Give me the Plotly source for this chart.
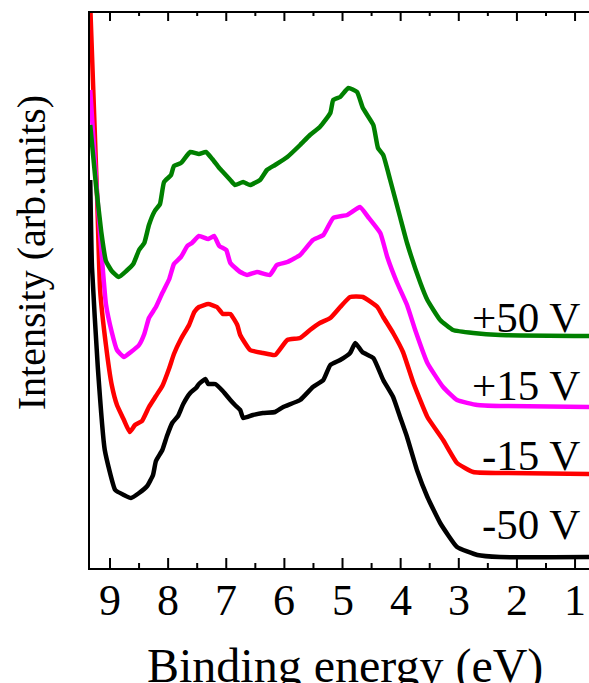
import plotly.graph_objects as go

# Binding energy (eV) and intensity (arb. units, offset spectra)
e_m50 = [9.34, 9.31, 9.21, 9.09, 8.91, 8.76, 8.64, 8.50, 8.36, 8.26, 8.21, 8.10, 8.02, 7.93, 7.83, 7.74,
         7.62, 7.52, 7.47, 7.36, 7.31, 7.19, 7.06, 6.93, 6.85, 6.76, 6.71, 6.54, 6.37, 6.16, 6.02, 5.73,
         5.51, 5.33, 5.21, 5.04, 4.87, 4.78, 4.66, 4.47, 4.30, 4.13, 4.01, 3.89, 3.72, 3.54, 3.32, 3.03,
         2.68, 2.29, 0.70]
i_m50 = [388, 301, 201, 118, 78, 73, 70, 75, 82, 93, 107, 118, 132, 145, 152, 164,
         175, 180, 184, 189, 184, 184, 177, 168, 163, 158, 150, 153, 155, 156, 161, 168,
         181, 188, 203, 208, 215, 225, 216, 210, 188, 171, 151, 131, 98, 71, 45, 21,
         13, 11, 11]

e_m15 = [9.34, 9.22, 9.17, 9.07, 8.97, 8.88, 8.76, 8.66, 8.57, 8.45, 8.33, 8.21, 8.10, 7.98, 7.90, 7.78,
         7.64, 7.55, 7.47, 7.31, 7.16, 7.06, 6.93, 6.81, 6.76, 6.59, 6.37, 6.16, 5.95, 5.73, 5.56, 5.39,
         5.21, 5.04, 4.87, 4.65, 4.40, 4.30, 4.13, 3.96, 3.78, 3.54, 3.27, 3.03, 2.75, 2.29, 0.70]
i_m15 = [563, 368, 278, 223, 183, 163, 148, 136, 143, 147, 161, 172, 182, 200, 214, 229,
         243, 256, 261, 264, 261, 254, 254, 243, 233, 218, 215, 213, 228, 230, 238, 245,
         250, 261, 271, 271, 261, 251, 235, 216, 185, 151, 128, 105, 96, 95, 94]

e_p15 = [9.34, 9.24, 9.15, 9.07, 8.97, 8.88, 8.76, 8.64, 8.50, 8.41, 8.33, 8.21, 8.10, 7.98, 7.90, 7.78,
         7.67, 7.59, 7.47, 7.31, 7.21, 7.12, 7.00, 6.93, 6.76, 6.64, 6.47, 6.25, 6.13, 5.95, 5.73, 5.51,
         5.33, 5.16, 4.92, 4.70, 4.56, 4.35, 4.23, 4.06, 3.89, 3.75, 3.54, 3.27, 3.03, 2.68, 2.29, 0.70]
i_p15 = [478, 389, 318, 264, 236, 218, 211, 216, 223, 234, 250, 261, 275, 289, 304, 311,
         322, 325, 332, 329, 332, 322, 318, 305, 296, 293, 296, 293, 303, 306, 313, 328,
         333, 350, 353, 361, 351, 335, 311, 285, 263, 238, 205, 181, 168, 163, 162, 161]

e_p50 = [9.34, 9.24, 9.15, 9.07, 8.97, 8.85, 8.72, 8.60, 8.50, 8.41, 8.33, 8.23, 8.14, 8.07, 7.95, 7.90,
         7.78, 7.62, 7.47, 7.35, 7.24, 7.12, 7.04, 6.93, 6.85, 6.71, 6.59, 6.42, 6.30, 6.16, 5.95, 5.73,
         5.56, 5.39, 5.21, 5.16, 5.04, 4.90, 4.75, 4.65, 4.47, 4.39, 4.30, 4.18, 4.01, 3.89, 3.66, 3.54,
         3.32, 3.10, 2.75, 2.29, 0.70]
i_p50 = [443, 382, 336, 307, 297, 291, 297, 304, 318, 325, 343, 357, 364, 386, 393, 402,
         405, 416, 414, 416, 409, 400, 395, 388, 383, 386, 383, 388, 398, 403, 411, 423,
         433, 441, 455, 468, 471, 480, 476, 460, 443, 420, 413, 388, 351, 325, 285, 268,
         248, 238, 235, 233, 232]

labels = ["-50 V", "-15 V", "+15 V", "+50 V"]
energies = [e_m50, e_m15, e_p15, e_p50]
intensities = [i_m50, i_m15, i_p15, i_p50]
colors = ["#000000", "#FF0000", "#FF00FF", "#008000"]
label_y = [44, 113, 183, 251]

major_ticks = [1, 2, 3, 4, 5, 6, 7, 8, 9]
tick_text = ["1", "2", "3", "4", "5", "6", "7", "8", "9"]
minor_ticks = [v + 0.5 for v in major_ticks[:-1]]

X_RANGE = [9.344, 0.76]
Y_RANGE = [0, 557]

FONT = "Times New Roman, Liberation Serif, serif"

fig = go.Figure()
for e, inten, c, lab in zip(energies, intensities, colors, labels):
    fig.add_trace(go.Scatter(x=e, y=inten, mode="lines", name=lab,
                             line=dict(color=c, width=4.5, shape="spline", smoothing=0.4),
                             showlegend=False, hoverinfo="skip"))

# inward tick marks (bottom and top edges) and the top frame line, drawn on the axes' scales
tx, ty = [], []
for vals, length in ((major_ticks, 10), (minor_ticks, 5)):
    for v in vals:
        tx += [v, v, None, v, v, None]
        ty += [Y_RANGE[0], Y_RANGE[0] + length, None, Y_RANGE[1], Y_RANGE[1] - length, None]
tx += [X_RANGE[0], X_RANGE[1]]
ty += [Y_RANGE[1] - 1, Y_RANGE[1] - 1]
fig.add_trace(go.Scatter(x=tx, y=ty, mode="lines", line=dict(color="black", width=2),
                         showlegend=False, hoverinfo="skip", connectgaps=False))

for lab, y in zip(labels, label_y):
    fig.add_annotation(x=0.986, xref="paper", y=y, yref="y", text=lab, showarrow=False,
                       xanchor="right", yanchor="middle",
                       font=dict(family=FONT, size=43, color="black"))

# tick labels of the energy axis
for v, t in zip(major_ticks, tick_text):
    fig.add_annotation(x=v, xref="x", y=-0.059, yref="paper", text=t, showarrow=False,
                       xanchor="center", yanchor="middle",
                       font=dict(family=FONT, size=44, color="black"))

fig.add_annotation(x=-0.118, xref="paper", y=0.567, yref="paper", text="Intensity (arb.units)",
                   showarrow=False, textangle=-90, xanchor="center", yanchor="middle",
                   font=dict(family=FONT, size=40, color="black"))
fig.add_annotation(x=0.511, xref="paper", y=-0.176, yref="paper", text="Binding energy (eV)",
                   showarrow=False, xanchor="center", yanchor="middle",
                   font=dict(family=FONT, size=48, color="black"))

fig.update_layout(
    width=589, height=683,
    margin=dict(l=90, r=0, t=11, b=115),
    paper_bgcolor="white", plot_bgcolor="white",
    font=dict(family=FONT, color="black"),
)
fig.update_xaxes(range=X_RANGE, tickmode="array", tickvals=major_ticks,
                 showticklabels=False, ticks="",
                 showline=True, linewidth=2, linecolor="black", mirror=False,
                 showgrid=False, zeroline=False)
fig.update_yaxes(range=Y_RANGE, showticklabels=False, ticks="",
                 showline=True, linewidth=2, linecolor="black", mirror=False,
                 showgrid=False, zeroline=False)

fig.write_html("out.html", config={"displayModeBar": False},
               post_script="document.body.style.margin='0';document.body.style.overflow='hidden';")
